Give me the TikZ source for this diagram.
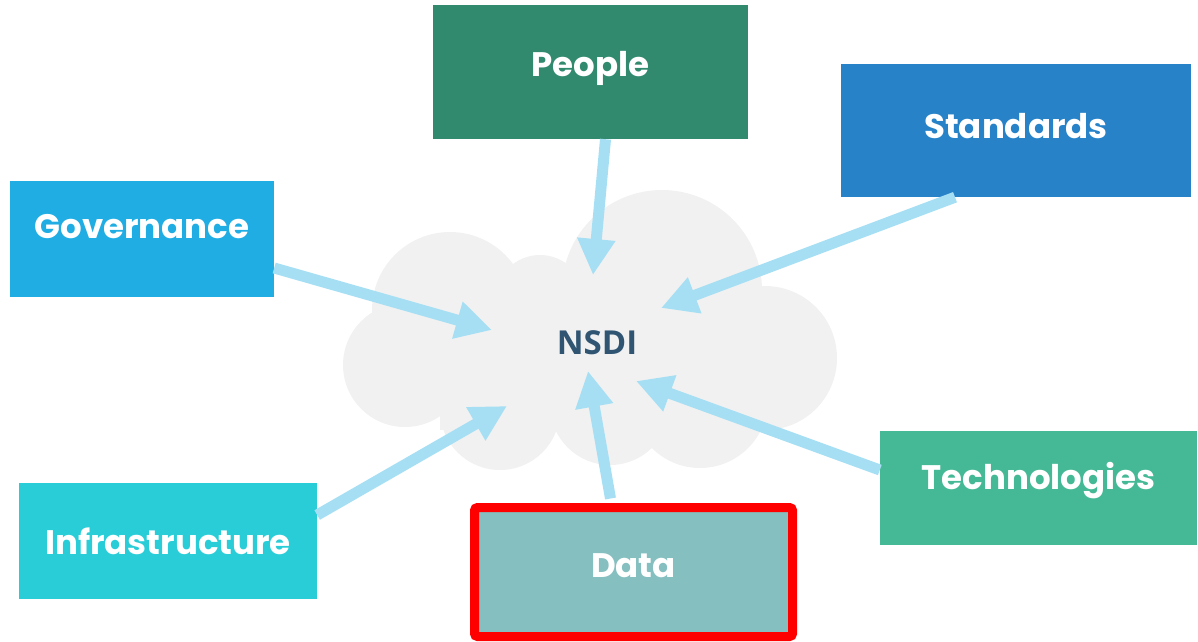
\documentclass[tikz,border=0pt]{standalone}
\usepackage{fontspec}
\setmainfont{Poppins}
\newfontfamily\nsdifont{Open Sans}
\usetikzlibrary{arrows.meta}

\definecolor{peoplecol}{HTML}{318A6E}
\definecolor{standcol}{HTML}{2782C8}
\definecolor{govcol}{HTML}{1FADE4}
\definecolor{infracol}{HTML}{29CDD8}
\definecolor{techcol}{HTML}{45B996}
\definecolor{datacol}{HTML}{85BFC0}
\definecolor{arrowcol}{HTML}{A6DFF4}
\definecolor{cloudcol}{HTML}{F1F1F1}
\definecolor{nsdicol}{HTML}{2F5573}

\begin{document}
\begin{tikzpicture}[x=1pt, y=-1pt,
        pillar/.style={rectangle, inner sep=0pt, text=white, font=\fontsize{34}{40}\selectfont\bfseries},
        link/.style={-{Triangle[length=36pt, width=36pt]}, line width=11pt, draw=arrowcol}
    ]
        \useasboundingbox (0,0) rectangle (1198,641);

        % Cloud
        \fill[cloudcol] (450,310) circle (78pt) (540,300) circle (45pt) (662,290) circle (100pt)
            (765,358) circle (72pt) (405,365) circle (62pt)
            (500,410) circle (60pt) (610,405) circle (60pt) (700,400) circle (68pt);
        \fill[cloudcol] (440,300) rectangle (750,430);
        \node[font=\nsdifont\fontsize{33}{38}\selectfont\bfseries, text=nsdicol] (nsdi) at (597,343) {NSDI};

        % Pillars
        \node[pillar, fill=peoplecol, minimum width=315pt, minimum height=134pt] (people) at (590.5,72)
            {\raisebox{4pt}[\height][\depth]{People}};
        \node[pillar, fill=standcol, minimum width=350pt, minimum height=133pt] (stand) at (1016,130.5)
            {\raisebox{4pt}[\height][\depth]{Standards}};
        \node[pillar, fill=govcol, minimum width=264pt, minimum height=116pt] (gov) at (142,239)
            {\raisebox{12pt}[\height][\depth]{Governance}};
        \node[pillar, fill=infracol, minimum width=298pt, minimum height=116pt] (infra) at (168,541)
            {Infrastructure};
        \node[pillar, fill=techcol, minimum width=317pt, minimum height=114pt] (tech) at (1038.5,488)
            {\raisebox{7pt}[\height][\depth]{Technologies}};
        \node[pillar, fill=datacol, draw=red, line width=9pt, rounded corners=3pt,
            minimum width=318pt, minimum height=129pt] (data) at (633.5,572)
            {\raisebox{6pt}[\height][\depth]{Data}};

        % Arrow tips
        \coordinate (tpeople) at (593,275);
        \coordinate (tstand) at (661,308);
        \coordinate (tgov) at (492,330);
        \coordinate (tinfra) at (507,406);
        \coordinate (tdata) at (588,371);
        \coordinate (ttech) at (636,381);

        \draw[link] ([xshift=15pt]people.south) -- (tpeople);
        \draw[link] ([xshift=-61pt]stand.south) -- (tstand);
        \draw[link] ([yshift=-29pt]gov.east) -- (tgov);
        \draw[link] ([yshift=26pt]infra.east) -- (tinfra);
        \draw[link] ([xshift=-23pt, yshift=4.5pt]data.north) -- (tdata);
        \draw[link] ([yshift=18pt]tech.west) -- (ttech);
    \end{tikzpicture}
\end{document}
